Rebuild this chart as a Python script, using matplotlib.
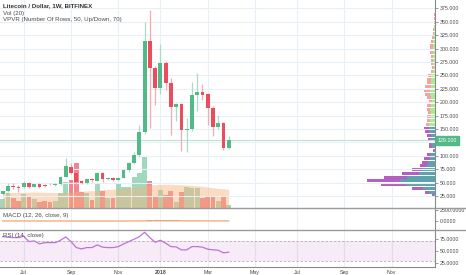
import numpy as np
import matplotlib
matplotlib.use("Agg")
import matplotlib.pyplot as plt
import matplotlib.transforms as mtransforms
from matplotlib.lines import Line2D

# weekly bars, index 0 = 5 Jun 2017, index 30 = 1 Jan 2018
weeks = np.arange(44)
opens = [28.5, 34.3, 44.2, 41.8, 41.0, 49.2, 42.4, 46.5, 46.0, 47.8, 46.2, 46.8, 61.0, 79.7, 68.5,
         52.4, 48.7, 56.7, 53.5, 67.4, 56.7, 58.6, 54.3, 59.1, 73.5, 86.0, 101.5, 145.0, 314.8, 263.3,
         225.9, 272.6, 235.3, 190.5, 196.6, 148.1, 149.4, 214.0, 219.0, 214.7, 189.0, 154.3, 161.2, 115.1]
highs = [35.0, 48.7, 48.7, 45.0, 53.5, 51.7, 48.0, 48.5, 47.5, 49.5, 48.5, 63.0, 95.0, 86.0, 70.5,
         55.0, 57.5, 58.0, 70.0, 69.0, 61.0, 60.0, 60.5, 75.0, 89.0, 107.6, 157.5, 350.2, 372.0, 268.0,
         308.0, 276.0, 244.6, 198.0, 198.0, 170.0, 238.0, 253.9, 234.0, 218.0, 192.0, 176.0, 163.0, 137.0]
lows = [26.0, 32.5, 38.0, 33.0, 39.5, 39.0, 41.0, 40.5, 41.0, 45.5, 44.5, 45.5, 60.0, 66.0, 45.0,
        47.5, 47.0, 52.0, 52.5, 52.0, 55.0, 53.0, 53.0, 58.0, 70.0, 84.0, 98.0, 140.0, 151.0, 194.8,
        215.0, 222.8, 138.8, 165.5, 109.5, 107.6, 147.0, 184.0, 204.0, 157.5, 137.0, 150.0, 110.8, 113.0]
closes = [34.3, 44.2, 41.5, 40.5, 49.2, 42.4, 46.8, 42.5, 42.8, 46.5, 47.3, 61.0, 80.9, 68.5, 51.7,
          48.7, 56.2, 54.3, 67.4, 56.2, 59.1, 54.9, 59.1, 73.5, 87.1, 101.5, 145.0, 314.8, 263.3, 225.9,
          272.6, 235.3, 190.5, 196.6, 148.1, 150.6, 213.4, 219.0, 214.0, 188.6, 154.3, 161.2, 115.1, 129.1]
# volume in millions of LTC
volume = [0.90, 1.56, 1.06, 0.76, 1.43, 1.26, 0.90, 0.63, 0.73, 0.66, 0.73, 1.50, 2.66, 2.83, 4.56,
          1.66, 1.50, 0.83, 2.50, 1.76, 1.06, 1.06, 2.50, 2.16, 2.16, 3.16, 3.50, 5.23, 2.76, 1.26,
          1.83, 1.33, 1.73, 0.66, 1.66, 2.16, 2.06, 2.00, 1.00, 1.26, 1.16, 0.76, 1.23, 0.33]
vol_ma = [1.56, 1.57, 1.58, 1.59, 1.60, 1.62, 1.63, 1.62, 1.60, 1.58, 1.57, 1.57, 1.58, 1.62, 1.70,
          1.72, 1.74, 1.76, 1.80, 1.85, 1.88, 1.90, 1.95, 2.00, 2.03, 2.08, 2.14, 2.28, 2.33, 2.36,
          2.38, 2.40, 2.40, 2.38, 2.35, 2.33, 2.30, 2.25, 2.20, 2.12, 2.06, 2.00, 1.95, 1.90]
macd_signal = [2.0, 2.5, 3.0, 3.3, 3.6, 3.8, 3.9, 3.9, 3.8, 3.7, 3.6, 3.8, 4.5, 5.2, 5.3,
               5.0, 4.7, 4.5, 4.6, 4.6, 4.5, 4.4, 4.3, 4.6, 5.5, 7.0, 10.0, 18.0, 27.0, 34.0,
               40.0, 44.0, 45.0, 44.0, 41.0, 38.0, 35.0, 33.0, 31.0, 29.0, 26.0, 23.0, 20.0, 17.0]
macd_hist = [0, 0, 0, 0, 0, 0, 0, 0, 0, 0, 0, 0, 0, 0, 0,
             0, 0, 0, 0, 0, 0, 0, 0, 0, 0, 0, 0, 0, 200, 260,
             260, 240, 220, 180, 0, 0, 0, 0, 0, 0, 0, 0, 0, 0]
rsi = [79.7, 78.5, 77.7, 77.7, 80.5, 69.5, 70.9, 64.8, 67.4, 67.4, 67.4, 72.3, 79.1, 69.5, 57.2,
       54.5, 57.2, 57.2, 62.7, 58.0, 57.2, 57.2, 59.2, 64.8, 69.5, 74.4, 79.7, 88.7, 77.7, 68.2,
       72.3, 66.2, 59.2, 58.6, 52.5, 52.5, 59.2, 59.2, 58.0, 53.9, 52.5, 51.8, 46.3, 47.7]

# volume profile, 50 rows
vp_start = 21.5
vp_step = 7.04
vp_up = [1.5, 5.7, 11.7, 29.0, 35.0, 28.3, 15.7, 13.3, 8.3, 6.7, 5.0, 4.0, 1.0, 3.3, 3.7,
         4.0, 4.3, 5.7, 6.0, 6.0, 5.0, 4.3, 4.0, 4.7, 4.3, 3.0, 4.3, 5.0, 5.0, 4.3,
         4.0, 3.7, 3.7, 1.7, 1.3, 2.0, 1.7, 1.7, 1.7, 2.0, 1.7, 1.7, 1.3, 0.7, 0.7,
         0.6, 0.5, 0.5, 0.4, 0.0]
vp_down = [1.8, 4.3, 11.6, 25.3, 32.7, 22.7, 17.6, 10.0, 6.7, 6.0, 5.7, 4.3, 0.7, 2.4, 2.6,
           2.7, 3.4, 4.3, 4.7, 3.3, 3.3, 3.4, 2.7, 3.6, 3.4, 2.7, 4.0, 5.0, 5.7, 5.4,
           4.3, 4.0, 3.3, 2.0, 2.0, 2.0, 2.6, 2.6, 3.0, 3.0, 3.0, 2.3, 2.0, 1.3, 1.0,
           0.7, 0.5, 0.5, 0.6, 0.0]
value_area_rows = 19

month_pos = [4, 13, 22, 30, 39, 48, 56, 65, 74]
month_labels = ["Jul", "Sep", "Nov", "2018", "Mar", "May", "Jul", "Sep", "Nov"]
price_ticks = list(range(25, 400, 25))

GREEN = "#53b987"
RED = "#eb4d5c"
TXT = "#4a4a4a"
GRID = "#e9eff6"
FONT = "Liberation Sans"

plt.rcParams["font.family"] = [FONT, "DejaVu Sans"]

W, H = 466, 275
fig = plt.figure(figsize=(W / 100, H / 100), dpi=100)
fig.patch.set_facecolor("white")

right = 435 / W
def frac(y0, y1):
    return [0, 1 - y1 / H, right, (y1 - y0) / H]

axv = fig.add_axes(frac(0, 208.3))
ax = fig.add_axes(frac(0, 208.3), sharex=axv)
axp = ax.twiny()
ax_macd = fig.add_axes(frac(208.3, 230), sharex=axv)
ax_rsi = fig.add_axes(frac(230, 266.5), sharex=axv)

xmin, xmax = -0.514, 82.25

# volume + volume MA
up = np.array(closes) >= np.array(opens)
vcol = [(0.325, 0.725, 0.53, 0.55) if u else (0.92, 0.30, 0.36, 0.68) for u in up]
axv.bar(weeks, volume, width=0.92, color=vcol, linewidth=0, zorder=2)
axv.fill_between(weeks, 0, vol_ma, color="#f7b27a", alpha=0.45, linewidth=0, zorder=3)
axv.set_ylim(0, 20.83)
axv.set_yticks([])
axv.set_xlim(xmin, xmax)
for s in axv.spines.values():
    s.set_visible(False)
axv.tick_params(axis="x", length=0, labelbottom=False)
axv.set_xticks(month_pos)
axv.grid(axis="x", color=GRID, lw=0.8, zorder=0)
axv.set_axisbelow(True)

# candles
ax.set_zorder(axv.get_zorder() + 1)
ax.patch.set_visible(False)
wick_cols = ["#a9dcc3" if u else "#f5aab2" for u in up]
body_cols = [GREEN if u else RED for u in up]
ax.vlines(weeks, lows, highs, colors=wick_cols, lw=0.9, zorder=3)
bot = np.minimum(opens, closes)
hgt = np.maximum(np.abs(np.array(closes) - np.array(opens)), 1.2)
ax.bar(weeks, hgt, bottom=bot, width=0.72, color=body_cols, linewidth=0, zorder=4)
ax.axhline(closes[-1], color="#b9e3cd", lw=0.8, zorder=2)
ax.set_ylim(2.05, 390.7)
ax.set_yticks(price_ticks)
# the 125 label sits under the last-price tag
ax.set_yticklabels(["" if p == 125 else f"{p:.3f}" for p in price_ticks])
ax.yaxis.tick_right()
ax.tick_params(axis="y", length=2, width=0.6, color="#8a8a8a", labelsize=3.8, labelcolor=TXT, pad=1.5)
ax.tick_params(axis="x", length=0, labelbottom=False)
ax.grid(axis="y", color=GRID, lw=0.8, zorder=0)
for k, s in ax.spines.items():
    s.set_visible(k == "right")
ax.spines["right"].set_color("#8a8a8a")
ax.spines["right"].set_linewidth(0.8)
ax.set_xlim(xmin, xmax)

trans = mtransforms.blended_transform_factory(ax.transAxes, ax.transData)
ax.text(1.006, closes[-1], f"{closes[-1]:.3f}", transform=trans, fontsize=3.8, color="white",
        va="center", ha="left", clip_on=False, zorder=10,
        bbox=dict(boxstyle="square,pad=0.35", fc=GREEN, ec=GREEN))

# volume profile
vp_price = vp_start + vp_step * (np.arange(len(vp_up)) + 0.5)
vp_up_a = np.array(vp_up)
vp_dn_a = np.array(vp_down)
in_va = np.arange(len(vp_up)) < value_area_rows
c_up = np.where(in_va, "#5ea3ac", "#a6ee8e")
c_dn = np.where(in_va, "#b45fc2", "#f5a2a2")
axp.barh(vp_price, vp_up_a, height=vp_step * 0.8, color=c_up, linewidth=0, zorder=5)
axp.barh(vp_price, vp_dn_a, left=vp_up_a, height=vp_step * 0.8, color=c_dn, linewidth=0, zorder=5)
axp.set_xlim(435, 0)
axp.set_xticks([])
axp.patch.set_visible(False)
for s in axp.spines.values():
    s.set_visible(False)

# MACD
ax_macd.bar(weeks, macd_hist, width=0.95, color="#8ebde6", linewidth=0, zorder=2)
ax_macd.plot(weeks, macd_signal, color="#f5a46c", lw=0.9, zorder=3)
ax_macd.set_ylim(-2045, 2886)
ax_macd.set_yticks([0, 2500])
ax_macd.set_yticklabels(["0.0000", "2500.0000"])

# RSI
ax_rsi.axhspan(30, 70, color="#9c27b0", alpha=0.09, lw=0, zorder=1)
for lvl in (30, 70):
    ax_rsi.axhline(lvl, color="#b9a9c0", lw=0.6, ls=(0, (3, 2)), zorder=2)
ax_rsi.plot(weeks, rsi, color="#bf73d6", lw=0.9, zorder=3)
ax_rsi.set_ylim(18.2, 93.4)
ax_rsi.set_yticks([25, 50, 75])
ax_rsi.set_yticklabels(["25.0000", "50.0000", "75.0000"])

for a in (ax_macd, ax_rsi):
    a.yaxis.tick_right()
    a.tick_params(axis="y", length=2, width=0.6, color="#8a8a8a", labelsize=3.8, labelcolor=TXT, pad=1.5)
    a.grid(axis="x", color=GRID, lw=0.8, zorder=0)
    a.set_axisbelow(True)
    a.patch.set_visible(False)
    for k, s in a.spines.items():
        s.set_visible(k == "right")
    a.spines["right"].set_color("#8a8a8a")
    a.spines["right"].set_linewidth(0.8)
    a.set_xlim(xmin, xmax)

ax_macd.tick_params(axis="x", length=0, labelbottom=False)
ax_rsi.spines["bottom"].set_visible(True)
ax_rsi.spines["bottom"].set_color("#8a8a8a")
ax_rsi.spines["bottom"].set_linewidth(0.8)
ax_rsi.set_xticks(month_pos)
ax_rsi.set_xticklabels(month_labels)
ax_rsi.tick_params(axis="x", length=0, labelsize=3.8, labelcolor=TXT, pad=2.5)
for lbl in ax_rsi.get_xticklabels():
    if lbl.get_text() == "2018":
        lbl.set_fontweight("bold")

# pane separators
for ypx in (208.3, 230):
    yf = 1 - ypx / H
    fig.add_artist(Line2D([0, 1], [yf, yf], color="#9a9a9a", lw=1.0, transform=fig.transFigure))

# legends / titles
def ftext(xpx, ypx, s, **kw):
    fig.text(xpx / W, 1 - ypx / H, s, va="center", ha="left", fontsize=4.4, **kw)

ftext(3, 6, "Litecoin / Dollar, 1W, BITFINEX", color="#333333", fontweight="bold")
ftext(3, 13, "Vol (20)", color=TXT)
ftext(3, 20, "VPVR (Number Of Rows, 50, Up/Down, 70)", color=TXT)
ftext(3, 215, "MACD (12, 26, close, 9)", color=TXT)
ftext(3, 236, "RSI (14, close)", color=TXT)

fig.savefig("out.png", dpi=100, facecolor="white")
